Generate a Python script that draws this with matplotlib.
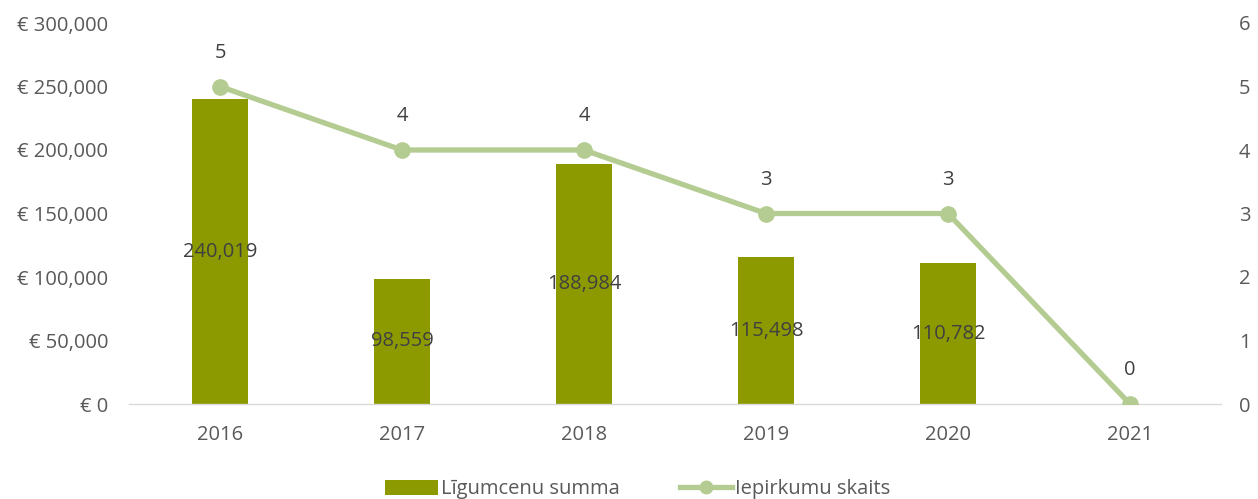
import matplotlib
matplotlib.use("Agg")
import matplotlib.pyplot as plt
from matplotlib.ticker import FuncFormatter, MultipleLocator
from matplotlib.lines import Line2D

plt.rcParams['font.family'] = ['Open Sans', 'DejaVu Sans']

years = ["2016", "2017", "2018", "2019", "2020", "2021"]
contract_sums = [240019, 98559, 188984, 115498, 110782, 0]
procurement_counts = [5, 4, 4, 3, 3, 0]
bar_label_texts = ["240,019", "98,559", "188,984", "115,498", "110,782", None]

bar_color = "#8C9A00"
line_color = "#B4CC91"
tick_color = "#595959"
label_color = "#404040"
fs = 14.5

fig = plt.figure(figsize=(12.58, 4.99), dpi=100)
ax = fig.add_axes([129/1258, 1-404/499, (1221-129)/1258, (404-23)/499])
ax2 = ax.twinx()

x = list(range(len(years)))
bars = ax.bar(x[:5], contract_sums[:5], width=0.31, color=bar_color, label="Līgumcenu summa", zorder=2)
ax.set_xlim(-0.5, len(years) - 0.5)
ax.set_ylim(0, 300000)
ax.yaxis.set_major_locator(MultipleLocator(50000))
ax.yaxis.set_major_formatter(FuncFormatter(lambda v, p: "€ {:,.0f}".format(v)))
ax.set_xticks(x)
ax.set_xticklabels(years)

for b, t in zip(bars, bar_label_texts[:5]):
    ax.text(b.get_x() + b.get_width()/2, b.get_height()/2, t, ha="center", va="center",
            fontsize=fs, color=label_color, zorder=5)

line, = ax2.plot(x, procurement_counts, color=line_color, lw=3.8, marker="o", markersize=11,
                 label="Iepirkumu skaits", zorder=3)
ax2.set_ylim(0, 6)
ax2.yaxis.set_major_locator(MultipleLocator(1))
for xi, v in zip(x, procurement_counts):
    ax2.annotate(str(v), (xi, v), xytext=(0, 17), textcoords="offset points", ha="center", va="bottom",
                 fontsize=fs, color=label_color)

for a in (ax, ax2):
    for s in a.spines.values():
        s.set_visible(False)
    a.tick_params(length=0, labelsize=fs, labelcolor=tick_color)
ax.spines['bottom'].set_visible(True)
ax.spines['bottom'].set_color("#D9D9D9")
ax.spines['bottom'].set_linewidth(1)
ax.tick_params(axis='x', pad=15)
ax.tick_params(axis='y', pad=15)
ax2.tick_params(axis='y', pad=13)

leg_line = Line2D([], [], color=line_color, lw=3.8, marker="o", markersize=9)
fig.legend(handles=[bars, leg_line], labels=["Līgumcenu summa", "Iepirkumu skaits"],
           loc="lower center", bbox_to_anchor=(0.507, -0.037), ncol=2, frameon=False,
           fontsize=fs, labelcolor=tick_color, handlelength=2.6, handleheight=0.8, handletextpad=0.15,
           columnspacing=3.0)

fig.savefig("out.png", dpi=100)
